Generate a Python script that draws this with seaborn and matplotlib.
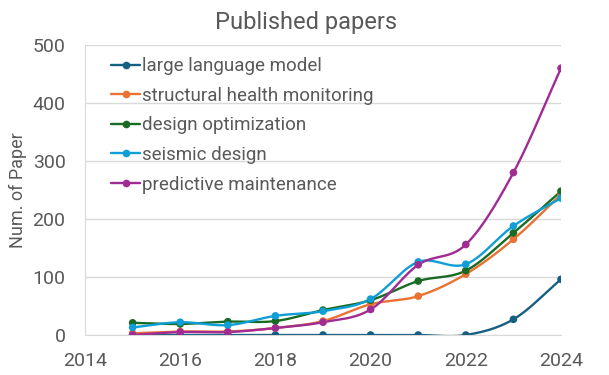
import numpy as np
import pandas as pd
import matplotlib
matplotlib.use("Agg")
import matplotlib.pyplot as plt
import seaborn as sns

# Values
years = [2015, 2016, 2017, 2018, 2019, 2020, 2021, 2022, 2023, 2024]
llm = [0, 0, 0, 0, 0, 0, 0, 0, 27, 96]
shm = [3, 6, 6, 12, 24, 53, 67, 105, 165, 242]
design_opt = [21, 19, 23, 24, 43, 60, 93, 111, 176, 248]
seismic = [13, 22, 17, 33, 41, 62, 126, 122, 188, 236]
predictive = [0, 5, 5, 12, 22, 44, 121, 156, 280, 460]

series_names = ["large language model", "structural health monitoring",
                "design optimization", "seismic design", "predictive maintenance"]
series_values = [llm, shm, design_opt, seismic, predictive]
colors = ["#156082", "#E97132", "#196B24", "#0F9ED5", "#A02B93"]

df = pd.DataFrame({"year": years * len(series_names),
                   "topic": np.repeat(series_names, len(years)),
                   "count": np.concatenate(series_values)})

sns.set_style("white")
plt.rcParams["font.family"] = ["Roboto", "DejaVu Sans"]
text_col = "#595959"


def smooth(x, y, n=30):
    # Catmull-Rom curve through the points (Excel "smoothed line" look)
    x = np.asarray(x, float)
    y = np.asarray(y, float)
    px = np.concatenate([[2 * x[0] - x[1]], x, [2 * x[-1] - x[-2]]])
    py = np.concatenate([[2 * y[0] - y[1]], y, [2 * y[-1] - y[-2]]])
    xs, ys = [], []
    t = np.linspace(0, 1, n)
    for i in range(1, len(px) - 2):
        for p, out in ((px, xs), (py, ys)):
            p0, p1, p2, p3 = p[i - 1], p[i], p[i + 1], p[i + 2]
            out.append(0.5 * (2 * p1 + (-p0 + p2) * t
                              + (2 * p0 - 5 * p1 + 4 * p2 - p3) * t ** 2
                              + (-p0 + 3 * p1 - 3 * p2 + p3) * t ** 3))
    return np.concatenate(xs), np.concatenate(ys)


fig = plt.figure(figsize=(6.09, 3.75), dpi=100)
ax = fig.add_axes([0.1396, 0.1067, 0.7816, 0.7733])

for name, col in zip(series_names, colors):
    sub = df[df["topic"] == name]
    sx, sy = smooth(sub["year"], sub["count"])
    ax.plot(sx, sy, color=col, lw=1.7, solid_capstyle="round")
    sns.scatterplot(data=sub, x="year", y="count", color=col, s=30,
                    edgecolor="none", ax=ax, zorder=3)

# legend handles
handles = [plt.Line2D([], [], color=c, lw=1.7, marker="o", markersize=4.5)
           for c in colors]
leg = ax.legend(handles, series_names, loc="upper left",
                bbox_to_anchor=(0.032, 0.997), frameon=False, fontsize=13.5,
                handlelength=1.5, handletextpad=0.15, labelspacing=0.62,
                borderaxespad=0.2)
for t in leg.get_texts():
    t.set_color(text_col)

ax.set_xlim(2014, 2024)
ax.set_ylim(0, 500)
ax.set_xticks(range(2014, 2025, 2))
ax.set_yticks(range(0, 501, 100))
ax.yaxis.grid(True, color="#D9D9D9", lw=1)
ax.set_axisbelow(True)
ax.tick_params(axis="x", labelsize=14, colors=text_col, length=0, pad=12)
ax.tick_params(axis="y", labelsize=14, colors=text_col, length=0, pad=14)
for side in ["top", "right"]:
    ax.spines[side].set_visible(False)
for side in ["left", "bottom"]:
    ax.spines[side].set_color("#D9D9D9")
ax.set_xlabel("")
ax.set_ylabel("Num. of Paper", fontsize=13, color=text_col, labelpad=4)
fig.text(0.503, 0.94, "Published papers", ha="center", va="center",
         fontsize=17, color=text_col)

fig.savefig("out.png", dpi=100)
